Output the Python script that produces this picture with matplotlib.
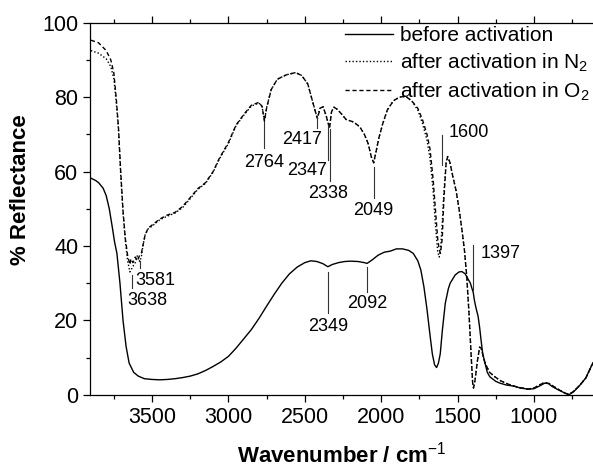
import matplotlib
matplotlib.use("Agg")
import matplotlib.pyplot as plt
from matplotlib.ticker import MultipleLocator

plt.rcParams['font.family'] = ['Liberation Sans', 'DejaVu Sans']
plt.rcParams['mathtext.fontset'] = 'custom'
plt.rcParams['mathtext.rm'] = 'Liberation Sans'
plt.rcParams['mathtext.it'] = 'Liberation Sans:italic'
plt.rcParams['mathtext.bf'] = 'Liberation Sans:bold'

# ================= DATA =================
# before activation (solid)
wn_before = [3900, 3870, 3850, 3820, 3800, 3780, 3760, 3745, 3730, 3710, 3690, 3670,
             3650, 3620, 3590, 3550, 3500, 3450, 3400, 3350, 3300, 3250, 3200, 3150,
             3100, 3050, 3000, 2950, 2900, 2850, 2800, 2750, 2700, 2650, 2600, 2550,
             2500, 2460, 2420, 2380, 2349, 2320, 2280, 2240, 2200, 2150, 2110, 2092,
             2060, 2020, 1980, 1940, 1900, 1860, 1820, 1790, 1760, 1740, 1720, 1700,
             1680, 1665, 1650, 1637, 1625, 1613, 1600, 1580, 1560, 1548, 1515, 1490,
             1471, 1450, 1430, 1416, 1405, 1397, 1390, 1380, 1365, 1355, 1346, 1335,
             1320, 1305, 1288, 1250, 1222, 1180, 1130, 1090, 1040, 1000, 960, 930,
             905, 880, 840, 800, 770, 740, 700, 660, 620, 612]
r_before = [58.2, 57.6, 57.0, 55.5, 53.5, 50.0, 45.0, 41.0, 38.0, 30.0, 20.0, 13.0,
            8.5, 6.0, 5.0, 4.3, 4.1, 4.0, 4.1, 4.3, 4.6, 5.0, 5.6, 6.5,
            7.6, 8.8, 10.3, 12.5, 15.0, 17.5, 20.5, 23.8, 27.0, 30.0, 32.5, 34.3,
            35.5, 36.0, 35.8, 35.2, 34.4, 35.0, 35.5, 35.8, 35.9, 35.8, 35.5, 35.3,
            36.2, 37.5, 38.3, 38.6, 39.2, 39.2, 38.8, 38.0, 36.0, 33.5, 29.0, 23.0,
            16.0, 11.0, 8.0, 7.3, 8.5, 11.0, 17.0, 24.6, 28.5, 30.0, 32.2, 33.0,
            33.1, 32.5, 31.0, 30.0, 28.5, 27.5, 25.5, 23.5, 21.0, 18.0, 14.7, 11.0,
            8.5, 6.0, 4.8, 3.6, 3.1, 2.6, 2.3, 1.8, 1.5, 1.6, 2.4, 3.1,
            3.0, 2.2, 1.3, 0.5, 0.0, 0.8, 2.5, 4.5, 8.0, 8.6]

# after activation in N2 (dotted) and O2 (dashed), same wavenumber grid
wn_act = [3900, 3850, 3800, 3770, 3750, 3735, 3720, 3705, 3690, 3675, 3660, 3645,
          3638, 3625, 3610, 3595, 3581, 3570, 3560, 3545, 3525, 3500, 3450, 3400,
          3350, 3300, 3250, 3200, 3150, 3100, 3060, 3000, 2950, 2900, 2850, 2800,
          2780, 2764, 2750, 2720, 2680, 2620, 2560, 2520, 2480, 2450, 2430, 2417,
          2400, 2380, 2360, 2347, 2338, 2325, 2310, 2290, 2260, 2230, 2180, 2140,
          2110, 2085, 2065, 2049, 2035, 2015, 1990, 1960, 1920, 1880, 1840, 1800,
          1760, 1730, 1700, 1680, 1660, 1645, 1630, 1620, 1612, 1600, 1590, 1575,
          1565, 1550, 1530, 1510, 1490, 1470, 1455, 1440, 1425, 1410, 1400, 1395,
          1385, 1370, 1355, 1345, 1320, 1290, 1255, 1220, 1190, 1140, 1090, 1040,
          1000, 960, 930, 900, 870, 830, 790, 765, 740, 700, 660, 620, 612]
r_n2 = [92.5, 91.8, 90.3, 88.2, 85.0, 79.0, 71.5, 59.0, 49.0, 41.5, 36.0, 33.0,
        33.5, 34.5, 35.5, 37.5, 35.8, 37.0, 40.0, 43.0, 44.6, 45.3, 47.0, 48.0,
        48.8, 50.3, 52.7, 55.2, 56.8, 59.8, 63.3, 67.5, 72.3, 75.1, 77.6, 78.4,
        77.5, 73.8, 77.2, 82.0, 84.8, 86.0, 86.6, 85.8, 83.5, 79.0, 76.0, 74.5,
        77.0, 77.4, 75.0, 73.0, 72.0, 76.0, 77.3, 76.8, 75.5, 74.0, 73.3, 72.0,
        70.0, 67.5, 64.0, 62.3, 65.0, 69.0, 72.8, 76.5, 79.0, 80.0, 80.2, 79.0,
        76.5, 73.0, 68.5, 63.5, 55.0, 46.0, 38.5, 37.0, 38.5, 46.0, 54.0, 62.5,
        64.0, 62.5, 58.5, 55.0, 50.0, 44.0, 39.0, 32.0, 22.0, 10.0, 2.5, 1.8,
        4.0, 9.0, 12.8, 12.5, 8.5, 6.0, 4.8, 3.8, 3.2, 2.4, 1.9, 1.5,
        1.8, 2.7, 3.3, 3.0, 2.2, 1.2, 0.3, 0.2, 0.9, 2.5, 4.5, 8.0, 8.6]
r_o2 = [95.3, 94.6, 92.5, 90.0, 86.5, 80.0, 72.0, 60.0, 49.5, 42.0, 37.5, 35.0,
        36.5, 35.5, 37.0, 36.0, 37.5, 38.0, 40.0, 43.0, 44.8, 45.6, 47.2, 48.3,
        49.0, 50.6, 53.0, 55.4, 57.0, 60.0, 63.5, 67.8, 72.5, 75.3, 77.8, 78.6,
        77.5, 73.5, 77.0, 82.0, 84.8, 86.0, 86.6, 85.8, 83.5, 79.0, 76.0, 74.2,
        77.0, 77.4, 75.0, 73.0, 71.5, 76.0, 77.3, 76.8, 75.5, 74.0, 73.3, 72.0,
        70.0, 67.5, 64.0, 62.3, 65.0, 69.0, 72.8, 76.5, 79.0, 80.0, 80.2, 79.0,
        77.0, 74.0, 70.0, 66.0, 58.0, 50.0, 42.0, 39.0, 38.0, 42.0, 52.0, 62.0,
        64.0, 62.5, 58.5, 55.0, 50.0, 44.0, 39.0, 32.0, 22.0, 10.0, 2.5, 1.8,
        4.0, 9.0, 12.8, 12.5, 8.5, 6.0, 4.8, 3.8, 3.2, 2.4, 1.9, 1.5,
        1.8, 2.7, 3.3, 3.0, 2.2, 1.2, 0.3, 0.2, 0.9, 2.5, 4.5, 8.0, 8.6]

# band labels: text, line x, line top, line bottom, text x, text y, alignment
bands = [
    ("3638", 3633, 32.2, 28.7, 3664, 25.4, "left"),
    ("3581", 3581, 36.0, 34.0, 3611, 30.8, "left"),
    ("2764", 2766, 73.3, 66.3, 2766, 62.5, "center"),
    ("2417", 2417, 74.6, 71.7, 2388, 68.7, "right"),
    ("2347", 2347, 72.5, 63.0, 2356, 60.4, "right"),
    ("2338", 2338, 71.5, 57.5, 2346, 54.2, "center"),
    ("2049", 2049, 61.2, 52.8, 2049, 49.6, "center"),
    ("1600", 1600, 69.8, 61.8, 1561, 70.5, "left"),
    ("1397", 1397, 40.2, 28.1, 1351, 38.0, "left"),
    ("2349", 2349, 33.0, 22.0, 2349, 18.3, "center"),
    ("2092", 2092, 34.4, 27.7, 2092, 24.6, "center"),
]

# ================= PLOT =================
fig = plt.figure(figsize=(5.93, 4.70), dpi=100)
ax = fig.add_axes([0.1518, 0.1602, 0.8482, 0.7915])

ax.plot(wn_before, r_before, color='black', lw=1.0, label='before activation')
ax.plot(wn_act, r_n2, color='black', lw=1.0, linestyle=(0, (1, 1.5)),
        label='after activation in N$_2$')
ax.plot(wn_act, r_o2, color='black', lw=1.0, linestyle=(0, (3, 2)),
        label='after activation in O$_2$')

for txt, lx, y1, y2, tx, ty, ha in bands:
    ax.plot([lx, lx], [y1, y2], color='#333333', lw=0.8)
    ax.text(tx, ty, txt, ha=ha, va='center', fontsize=13)

ax.set_xlim(3906, 613)
ax.set_ylim(0, 100)
ax.xaxis.set_major_locator(MultipleLocator(500))
ax.xaxis.set_minor_locator(MultipleLocator(250))
ax.yaxis.set_major_locator(MultipleLocator(20))
ax.yaxis.set_minor_locator(MultipleLocator(10))

ax.spines['right'].set_visible(False)
for s in ['left', 'bottom', 'top']:
    ax.spines[s].set_linewidth(0.9)
ax.tick_params(axis='both', which='major', direction='out', length=5, width=0.9,
               labelsize=15.5)
ax.tick_params(axis='both', which='minor', direction='out', length=3, width=0.9)
ax.tick_params(axis='x', which='both', top=True)

ax.set_xlabel('Wavenumber / cm$^{-1}$', fontsize=16, fontweight='bold', labelpad=10)
ax.set_ylabel('% Reflectance', fontsize=16, fontweight='bold')
ax.yaxis.set_label_coords(-0.118, 0.55)

ax.legend(loc='upper left', bbox_to_anchor=(0.507, 0.99), frameon=False,
          fontsize=15, handlelength=2.3, handletextpad=0.34, labelspacing=0.3,
          borderpad=0, borderaxespad=0)

fig.savefig('out.png', dpi=100)
